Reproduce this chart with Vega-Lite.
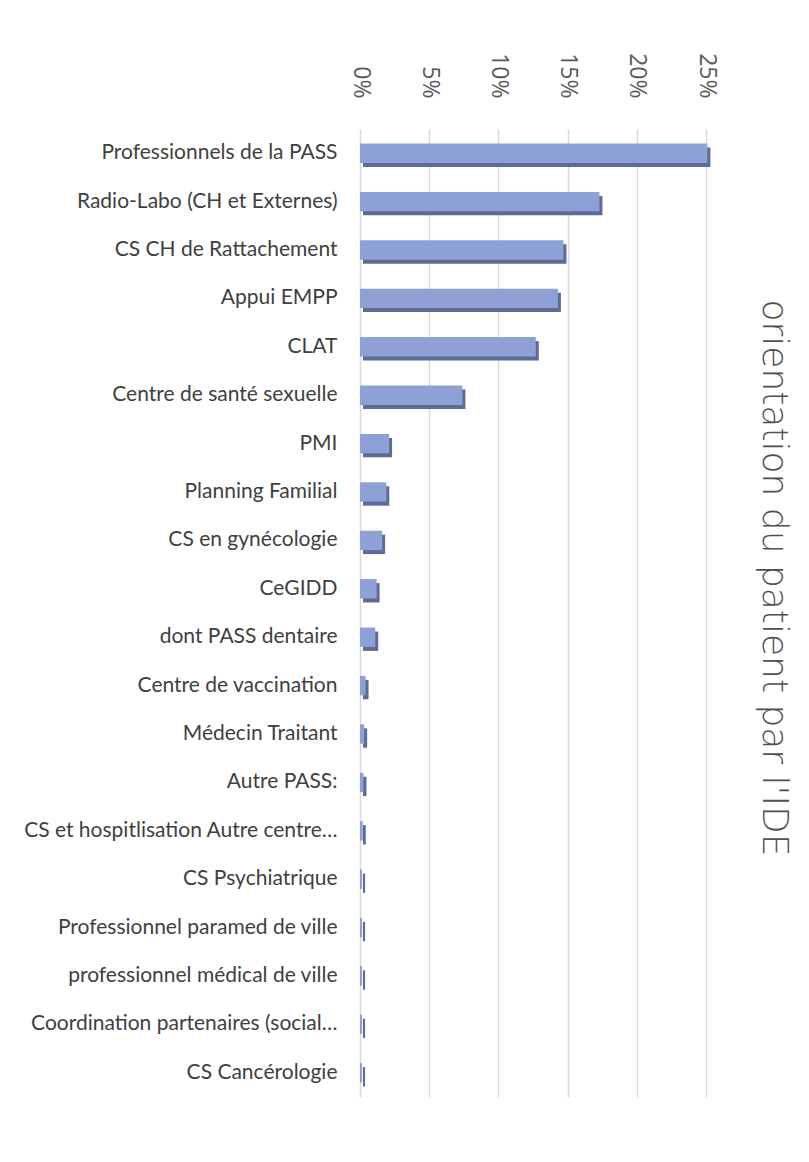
{
  "$schema": "https://vega.github.io/schema/vega-lite/v6.json",
  "width": 346,
  "height": 968,
  "autosize": {"type": "none"},
  "padding": {"left": 360, "top": 129, "right": 103, "bottom": 65},
  "background": "white",
  "title": {
    "text": "orientation du patient par l'IDE",
    "orient": "right",
    "anchor": "middle",
    "offset": 38,
    "dx": -35,
    "font": "DejaVu Sans",
    "fontSize": 36,
    "fontWeight": 300,
    "color": "#505050"
  },
  "data": {
    "values": [
      {"cat": "Professionnels de la  PASS", "v": 0.251},
      {"cat": "Radio-Labo (CH et Externes)", "v": 0.173},
      {"cat": "CS CH de Rattachement", "v": 0.147},
      {"cat": "Appui EMPP", "v": 0.143},
      {"cat": "CLAT", "v": 0.127},
      {"cat": "Centre de santé sexuelle", "v": 0.074},
      {"cat": "PMI", "v": 0.021},
      {"cat": "Planning Familial ", "v": 0.019},
      {"cat": "CS en gynécologie", "v": 0.016},
      {"cat": "CeGIDD", "v": 0.012},
      {"cat": "dont PASS dentaire", "v": 0.011},
      {"cat": "Centre de vaccination", "v": 0.004},
      {"cat": "Médecin Traitant", "v": 0.003},
      {"cat": "Autre PASS:", "v": 0.0025},
      {"cat": "CS et hospitlisation Autre centre…", "v": 0.002},
      {"cat": "CS Psychiatrique", "v": 0.0015},
      {"cat": "Professionnel paramed de ville", "v": 0.0015},
      {"cat": "professionnel médical de ville", "v": 0.0015},
      {"cat": "Coordination partenaires (social…", "v": 0.0015},
      {"cat": "CS Cancérologie", "v": 0.0015}
    ]
  },
  "encoding": {
    "y": {
      "field": "cat",
      "type": "nominal",
      "sort": null,
      "scale": {"paddingInner": 0.6, "paddingOuter": 0.3},
      "axis": {
        "title": null,
        "domain": false,
        "ticks": false,
        "labelPadding": 23,
        "labelFont": "Lato",
        "labelFontSize": 21,
        "labelColor": "#404040",
        "labelLimit": 345
      }
    },
    "x": {
      "field": "v",
      "type": "quantitative",
      "scale": {"domain": [0, 0.25], "nice": false},
      "axis": {
        "orient": "top",
        "title": null,
        "format": ".0%",
        "values": [0, 0.05, 0.1, 0.15, 0.2, 0.25],
        "domain": false,
        "ticks": false,
        "labelAngle": 90,
        "labelPadding": 31,
        "labelFont": "Open Sans",
        "labelFontSize": 23,
        "labelColor": "#595959",
        "grid": true,
        "gridColor": "#D9D9D9",
        "gridWidth": 1.5
      }
    }
  },
  "layer": [
    {"mark": {"type": "bar", "color": "#5D6B96", "xOffset": 3, "yOffset": 4}},
    {"mark": {"type": "bar", "color": "#8EA1D6"}}
  ],
  "config": {"view": {"stroke": null}}
}
